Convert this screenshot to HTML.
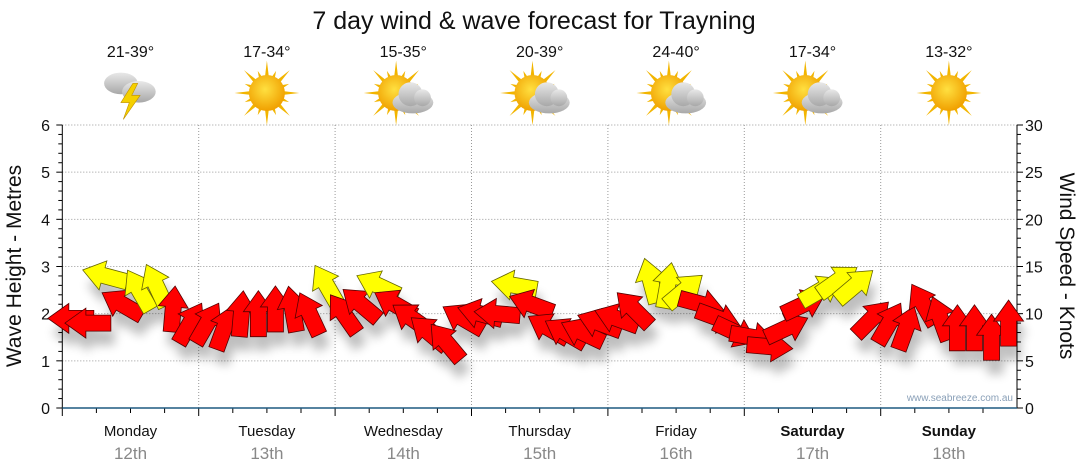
<!DOCTYPE html>
<html><head><meta charset="utf-8"><style>
body{margin:0;background:#fff;width:1080px;height:475px;overflow:hidden;font-family:"Liberation Sans",sans-serif}
svg{display:block}
</style></head><body>
<svg id="chart" width="1080" height="475" xmlns="http://www.w3.org/2000/svg">
<defs><filter id="sh" x="-50%" y="-50%" width="200%" height="200%"><feGaussianBlur stdDeviation="5"/></filter>
<radialGradient id="sun" cx="45%" cy="40%" r="60%"><stop offset="0" stop-color="#ffe040"/><stop offset="1" stop-color="#f0a000"/></radialGradient>
<linearGradient id="cloud" x1="0" y1="0" x2="0" y2="1"><stop offset="0" stop-color="#e8e8e8"/><stop offset="1" stop-color="#a8a8a8"/></linearGradient></defs>
<text x="534" y="29" text-anchor="middle" font-size="25" fill="#111">7 day wind &amp; wave forecast for Trayning</text>
<g id="grid"></g><g id="axes"></g><g id="icons"></g><g id="shadows" filter="url(#sh)" opacity="0.25"></g><g id="marks"></g>
<text x="1013" y="401" text-anchor="end" font-size="10" fill="#8aa0b8">www.seabreeze.com.au</text>
<text transform="translate(21,266) rotate(-90)" text-anchor="middle" font-size="21" fill="#111">Wave Height - Metres</text>
<text transform="translate(1060,266) rotate(90)" text-anchor="middle" font-size="21" fill="#111">Wind Speed - Knots</text>
</svg>
<script>
const days=["Monday","Tuesday","Wednesday","Thursday","Friday","Saturday","Sunday"];
const dates=["12th","13th","14th","15th","16th","17th","18th"];
const temps=["21-39°","17-34°","15-35°","20-39°","24-40°","17-34°","13-32°"];
const weather=["storm","sun","cloudsun","cloudsun","cloudsun","cloudsun","sun"];
const waveTicks=[0,1,2,3,4,5,6];
const knotTicks=[0,5,10,15,20,25,30];
const windSpeed=[9.5,9,14,11,12.5,13,10.5,9, 9,8.5,10,10,10.5,10.5,10,13, 10,11,13,11,9.5,8,7,9.5, 10,10,13,11,8.5,8,8,9, 9.5,10.5,13.5,13,12.5,11,9.5,8, 7.5,6.5,8.5,11,12.5,13.5,13,9.5, 9,8.5,11,9.5,8.5,8.5,7.5,9];
const windDir=[180,180,165,150,120,115,85,60, 60,70,85,90,90,100,115,120, 125,140,155,150,145,140,130,150, 165,175,170,160,150,150,155,160, 160,135,105,80,40,-15,-20,-25, -10,-5,25,25,30,35,40,45, 60,70,120,110,90,90,90,90];
const windColor=["r","r","y","r","y","y","r","r", "r","r","r","r","r","r","r","y", "r","r","y","r","r","r","r","r", "r","r","y","r","r","r","r","r", "r","r","y","y","y","r","r","r", "r","r","r","r","y","y","y","r", "r","r","r","r","r","r","r","r"];
const NS="http://www.w3.org/2000/svg";
const X0=62.3,DW=136.4,Y0=408,Y6=125;
const xH=h=>X0+h/24*DW;
const yM=m=>Y0-(Y0-Y6)*m/6;
const yK=k=>Y0-(Y0-Y6)*k/30;
function mk(tag,attrs,parent){const e=document.createElementNS(NS,tag);for(const k in attrs)e.setAttribute(k,attrs[k]);parent.appendChild(e);return e;}
const grid=document.getElementById('grid'),axes=document.getElementById('axes'),icons=document.getElementById('icons'),marks=document.getElementById('marks'),shadows=document.getElementById('shadows');
waveTicks.forEach(m=>{
 if(m>0){const l=mk('line',{x1:X0,x2:1017,y1:yM(m),y2:yM(m),stroke:'#999','stroke-dasharray':'1,2'},grid);
 }
 const t=mk('text',{x:50,y:yM(m)+6,'text-anchor':'end','font-size':16,fill:'#111'},axes);t.textContent=m;
 
});
knotTicks.forEach(k=>{const t=mk('text',{x:1025,y:yK(k)+6,'font-size':16,fill:'#111'},axes);t.textContent=k;
 });
for(let i=0;i<=30;i++){const y=Y0-(Y0-Y6)*i/30;const w=i%5==0?6:4;
 mk('line',{x1:X0-w,x2:X0,y1:y,y2:y,stroke:'#000'},axes);mk('line',{x1:1017,x2:1017+w,y1:y,y2:y,stroke:'#000'},axes);}
mk('line',{x1:X0,x2:X0,y1:Y6,y2:Y0,stroke:'#000'},axes);
mk('line',{x1:1017,x2:1017,y1:Y6,y2:Y0,stroke:'#000'},axes);
days.forEach((d,i)=>{
 const x=X0+i*DW,cx=x+DW/2;
 if(i>0){const l=mk('line',{x1:x,x2:x,y1:Y6,y2:Y0,stroke:'#999','stroke-dasharray':'1,2'},grid);
 }
 mk('line',{x1:x,x2:x,y1:Y0,y2:Y0+8,stroke:'#000'},axes);
 for(let q=1;q<4;q++)mk('line',{x1:x+q*DW/4,x2:x+q*DW/4,y1:Y0,y2:Y0+5,stroke:'#000'},axes);
 const t=mk('text',{x:cx,y:436,'text-anchor':'middle','font-size':15,fill:'#111','font-weight':i>=5?'bold':'normal'},axes);t.textContent=d;
 
 const t2=mk('text',{x:cx,y:459,'text-anchor':'middle','font-size':17,fill:'#888'},axes);t2.textContent=dates[i];
 
 const t3=mk('text',{x:cx,y:57,'text-anchor':'middle','font-size':16,fill:'#111'},icons);t3.textContent=temps[i];
 
 const g=mk('g',{transform:`translate(${cx},93) scale(1.2)`},icons);
 
 const w=weather[i];
 if(w!='storm'){
  const sx=w=='sun'?0:-6;
  for(let r=0;r<16;r++){const a=r*Math.PI/8,L=r%2?20:27;mk('polygon',{points:`${sx+Math.cos(a)*L},${Math.sin(a)*L} ${sx+Math.cos(a+0.15)*12},${Math.sin(a+0.15)*12} ${sx+Math.cos(a-0.15)*12},${Math.sin(a-0.15)*12}`,fill:'#f2b500'},g);}
  mk('circle',{cx:sx,cy:0,r:15,fill:'url(#sun)'},g);
  if(w=='cloudsun'){mk('ellipse',{cx:8,cy:8,rx:17,ry:9,fill:'url(#cloud)'},g);mk('circle',{cx:6,cy:1,r:10,fill:'url(#cloud)'},g);mk('circle',{cx:16,cy:4,r:7,fill:'url(#cloud)'},g);}
 } else {
  mk('ellipse',{cx:-8,cy:-8,rx:14,ry:9,fill:'url(#cloud)'},g);
  mk('ellipse',{cx:7,cy:-1,rx:14,ry:9,fill:'url(#cloud)'},g);
  mk('polygon',{points:'2,-8 -8,8 -1,8 -6,22 8,2 1,2 6,-8',fill:'#f5d000',stroke:'#c09000','stroke-width':0.5},g);
 }
});
mk('line',{x1:X0,x2:1017,y1:Y0,y2:Y0,stroke:'#1f5a80','stroke-width':1.5},axes);
const arrowPts="-23,-8 2,-8 2,-15 23,0 2,15 2,8 -23,8";
windSpeed.forEach((k,i)=>{
 const x=xH(i*3+1.5),y=yK(k),rot=-windDir[i];
 mk('polygon',{points:arrowPts,transform:`translate(${x+4},${y+14}) rotate(${rot})`,fill:'#000'},shadows);
 const p=mk('polygon',{points:arrowPts,transform:`translate(${x},${y}) rotate(${rot})`,fill:windColor[i]=='y'?'#ffff00':'#ff0000',stroke:windColor[i]=='y'?'#666600':'#550000','stroke-width':0.8},marks);
 
 
});
</script>
</body></html>
